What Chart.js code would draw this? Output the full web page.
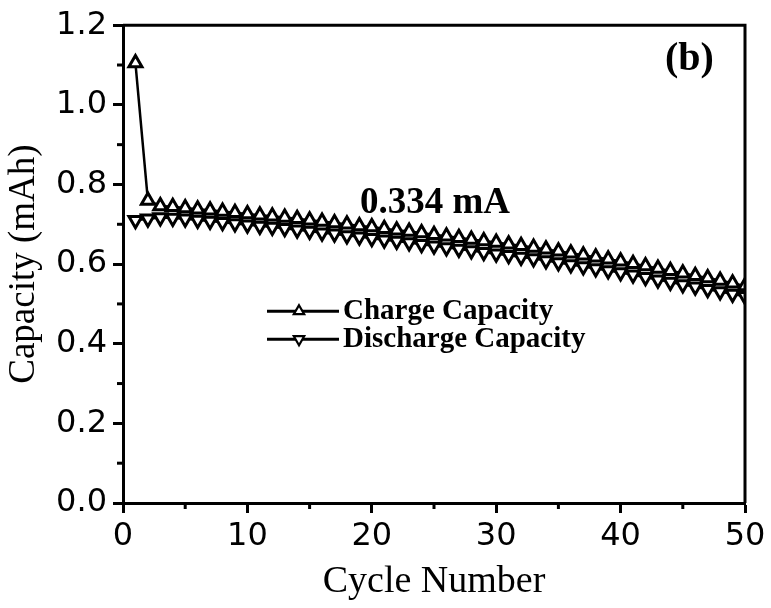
<!DOCTYPE html>
<html>
<head>
<meta charset="utf-8">
<script src="https://cdn.jsdelivr.net/npm/chart.js@4.4.0/dist/chart.umd.min.js"></script>
<style>
html,body{margin:0;padding:0;background:#fff;}
#wrap{width:771px;height:608px;position:relative;}
</style>
</head>
<body>
<div id="wrap"><canvas id="c" width="771" height="608"></canvas></div>
<script>
const cycles = [1,2,3,4,5,6,7,8,9,10,11,12,13,14,15,16,17,18,19,20,21,22,23,24,25,26,27,28,29,30,31,32,33,34,35,36,37,38,39,40,41,42,43,44,45,46,47,48,49,50];
const chargeCapacity = [1.105,0.760,0.746,0.744,0.741,0.738,0.735,0.732,0.729,0.726,0.723,0.720,0.717,0.714,0.710,0.707,0.703,0.700,0.696,0.693,0.689,0.685,0.682,0.678,0.674,0.670,0.666,0.662,0.658,0.654,0.650,0.646,0.642,0.637,0.632,0.627,0.622,0.617,0.612,0.607,0.601,0.595,0.589,0.583,0.577,0.571,0.565,0.559,0.552,0.545];
const dischargeCapacity = [0.710,0.714,0.717,0.716,0.714,0.711,0.708,0.705,0.702,0.699,0.696,0.693,0.690,0.686,0.683,0.679,0.676,0.672,0.669,0.665,0.661,0.658,0.654,0.650,0.646,0.642,0.638,0.634,0.630,0.626,0.622,0.618,0.614,0.609,0.604,0.599,0.594,0.589,0.584,0.579,0.573,0.567,0.561,0.555,0.549,0.543,0.537,0.531,0.525,0.519];
const xTickValues = [0,10,20,30,40,50];
const xMinorTicks = [5,15,25,35,45];
const yTickValues = [0.0,0.2,0.4,0.6,0.8,1.0,1.2];
const yMinorTicks = [0.1,0.3,0.5,0.7,0.9,1.1];
const seriesLabels = ['Charge Capacity','Discharge Capacity'];
const xTitle = 'Cycle Number';
const yTitle = 'Capacity (mAh)';
const currentNote = '0.334 mA';
const panelLabel = '(b)';

const frameAndMinor = {
  id: 'frameAndMinor',
  afterDraw(chart) {
    const {ctx, chartArea: a, scales: {x, y}} = chart;
    ctx.save();
    ctx.strokeStyle = '#000';
    ctx.lineWidth = 3;
    ctx.beginPath();
    ctx.moveTo(a.left, a.top); ctx.lineTo(a.right, a.top); ctx.lineTo(a.right, a.bottom);
    ctx.stroke();
    xMinorTicks.forEach(v => {
      const px = x.getPixelForValue(v);
      ctx.beginPath(); ctx.moveTo(px, a.bottom); ctx.lineTo(px, a.bottom + 6); ctx.stroke();
    });
    yMinorTicks.forEach(v => {
      const py = y.getPixelForValue(v);
      ctx.beginPath(); ctx.moveTo(a.left, py); ctx.lineTo(a.left - 6, py); ctx.stroke();
    });
    ctx.restore();
  }
};

const notes = {
  id: 'notes',
  afterDraw(chart) {
    const {ctx, chartArea: a} = chart;
    ctx.save();
    ctx.fillStyle = '#000';
    ctx.textBaseline = 'alphabetic';
    ctx.textAlign = 'left';
    ctx.font = 'bold 37px "Liberation Serif"';
    ctx.fillText(currentNote, a.left + 237, a.top + 188);
    ctx.font = 'bold 40px "Liberation Serif"';
    ctx.fillText(panelLabel, a.left + 542, a.top + 45);
    // legend
    const lx = a.left + 144, ly = a.top + 286, gap = 28;
    chart.data.datasets.forEach((ds, i) => {
      const yy = ly + i * gap;
      ctx.strokeStyle = '#000';
      ctx.lineWidth = 3;
      ctx.beginPath(); ctx.moveTo(lx, yy); ctx.lineTo(lx + 72, yy); ctx.stroke();
      ctx.fillStyle = '#fff';
      ctx.lineWidth = 2.2;
      ctx.beginPath();
      const r = 6, rot = (ds.pointRotation || 0) * Math.PI / 180;
      for (let k = 0; k < 3; k++) {
        const ang = rot + k * 2 * Math.PI / 3;
        const px = lx + 32 + Math.sin(ang) * r, py = yy - Math.cos(ang) * r;
        if (k === 0) ctx.moveTo(px, py); else ctx.lineTo(px, py);
      }
      ctx.closePath(); ctx.fill(); ctx.stroke();
      ctx.fillStyle = '#000';
      ctx.font = 'bold 29px "Liberation Serif"';
      ctx.fillText(ds.label, lx + 76, yy + 8);
    });
    ctx.restore();
  }
};

new Chart(document.getElementById('c'), {
  type: 'line',
  data: {
    labels: cycles,
    datasets: [
      {
        label: seriesLabels[0],
        data: cycles.map((c, i) => ({x: c, y: chargeCapacity[i]})),
        borderColor: '#000', borderWidth: 2.5,
        pointStyle: 'triangle', pointRotation: 0, pointRadius: 7.5,
        pointBorderWidth: 3, pointBackgroundColor: '#fff', pointBorderColor: '#000',
        tension: 0
      },
      {
        label: seriesLabels[1],
        data: cycles.map((c, i) => ({x: c, y: dischargeCapacity[i]})),
        borderColor: '#000', borderWidth: 2.5,
        pointStyle: 'triangle', pointRotation: 180, pointRadius: 7.5,
        pointBorderWidth: 3, pointBackgroundColor: '#fff', pointBorderColor: '#000',
        tension: 0
      }
    ]
  },
  options: {
    responsive: false,
    animation: false,
    events: [],
    layout: {padding: {top: 25, right: 26, left: 0, bottom: 0}},
    plugins: {legend: {display: false}, tooltip: {enabled: false}},
    scales: {
      x: {
        type: 'linear', min: 0, max: 50,
        afterBuildTicks: s => { s.ticks = xTickValues.map(v => ({value: v})); },
        ticks: {color: '#000', font: {family: '"DejaVu Sans"', size: 32}, padding: 4, maxRotation: 0,
          callback: v => String(v)},
        grid: {drawOnChartArea: false, drawTicks: true, tickLength: 10, tickWidth: 3, tickColor: '#000'},
        border: {display: true, color: '#000', width: 3},
        title: {display: true, text: xTitle, color: '#000', font: {family: '"Liberation Serif"', size: 38}, padding: {top: 0, bottom: 3}},
        afterFit: s => { s.height = 105; }
      },
      y: {
        min: 0, max: 1.2,
        afterBuildTicks: s => { s.ticks = yTickValues.map(v => ({value: v})); },
        ticks: {color: '#000', font: {family: '"DejaVu Sans"', size: 32}, padding: 6,
          callback: v => Number(v).toFixed(1)},
        grid: {drawOnChartArea: false, drawTicks: true, tickLength: 10, tickWidth: 3, tickColor: '#000'},
        border: {display: true, color: '#000', width: 3},
        title: {display: true, text: yTitle, color: '#000', font: {family: '"Liberation Serif"', size: 37}, padding: {top: 2, bottom: 0}},
        afterFit: s => { s.width = 123; }
      }
    }
  },
  plugins: [frameAndMinor, notes]
});
</script>
</body>
</html>
